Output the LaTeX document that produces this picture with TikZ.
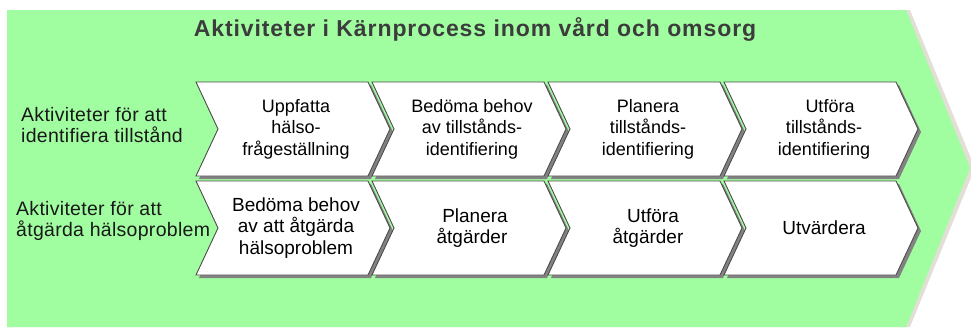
\documentclass[tikz,border=0pt]{standalone}
\usepackage{fontspec}
\setmainfont{Liberation Sans}
\usetikzlibrary{calc}

\definecolor{bggreen}{RGB}{160,253,160}
\definecolor{edgegray}{RGB}{75,75,75}
\definecolor{shadegray}{RGB}{130,130,130}
\definecolor{rimbeige}{RGB}{226,223,212}
\definecolor{titlegray}{RGB}{60,60,60}

\tikzset{
  chevfill/.style={fill=white, draw=edgegray, line width=0.9pt, line join=miter},
  chevshade/.style={fill=shadegray},
  rowonetext/.style={align=center, inner sep=0pt, text=black,
    font=\fontsize{18}{21.5}\selectfont},
  rowtwotext/.style={align=center, inner sep=0pt, text=black,
    font=\fontsize{19}{21.5}\selectfont},
  rowlabel/.style={align=left, anchor=west, inner sep=0pt, text=black!90,
    font=\fontsize{19.5}{21}\selectfont\addfontfeature{LetterSpace=1.5}},
  titletext/.style={inner sep=0pt, text=titlegray,
    font=\bfseries\fontsize{23}{26}\selectfont\addfontfeature{LetterSpace=4}},
}

% chevron: #1 left x, #2 top y, #3 node name, #4 text style, #5 text
\newcommand\chevronbox[5]{%
  \begin{scope}[shift={(#1,#2)}]
    \fill[chevshade] (3,3) -- ++(172,0) -- ++(22,47) -- ++(-22,47)
      -- ++(-172,0) -- ++(22,-47) -- cycle;
    \filldraw[chevfill] (0,0) -- (172,0) -- (194,47) -- (172,94)
      -- (0,94) -- (22,47) -- cycle;
    \node[#4] (#3) at (100,47) {#5};
  \end{scope}}

\begin{document}
\begin{tikzpicture}[x=1pt,y=-1pt]
\useasboundingbox (0,0) rectangle (971,327);

% large process arrow behind everything
\fill[rimbeige] (7,10) -- (910,10) -- (975,168) -- (910,327) -- (7,327) -- cycle;
\fill[bggreen] (7,10) -- (906,10) -- (970,168) -- (906,327) -- (7,327) -- cycle;

\node[titletext] (title) at (475,29) {Aktiviteter i Kärnprocess inom vård och omsorg};

% first row
\node[rowlabel] (labelone) at (21,125) {Aktiviteter för att\\identifiera tillstånd};
\chevronbox{196}{82}{uppfatta}{rowonetext}{Uppfatta\\hälso-\\frågeställning}
\chevronbox{372}{82}{bedomaone}{rowonetext}{Bedöma behov\\av tillstånds-\\identifiering}
\chevronbox{548}{82}{planeraone}{rowonetext}{Planera\\tillstånds-\\identifiering}
\chevronbox{724}{82}{utforaone}{rowonetext}{\hspace*{12pt}Utföra\\tillstånds-\\identifiering}

% second row
\node[rowlabel] (labeltwo) at (16,221) {Aktiviteter för att\\åtgärda hälsoproblem};
\chevronbox{196}{181}{bedomatwo}{rowtwotext}{Bedöma behov\\av att åtgärda\\hälsoproblem}
\chevronbox{372}{181}{planeratwo}{rowtwotext}{\hspace*{6pt}Planera\\åtgärder}
\chevronbox{548}{181}{utforatwo}{rowtwotext}{\hspace*{10pt}Utföra\\åtgärder}
\chevronbox{724}{181}{utvardera}{rowtwotext}{Utvärdera}
\end{tikzpicture}
\end{document}
